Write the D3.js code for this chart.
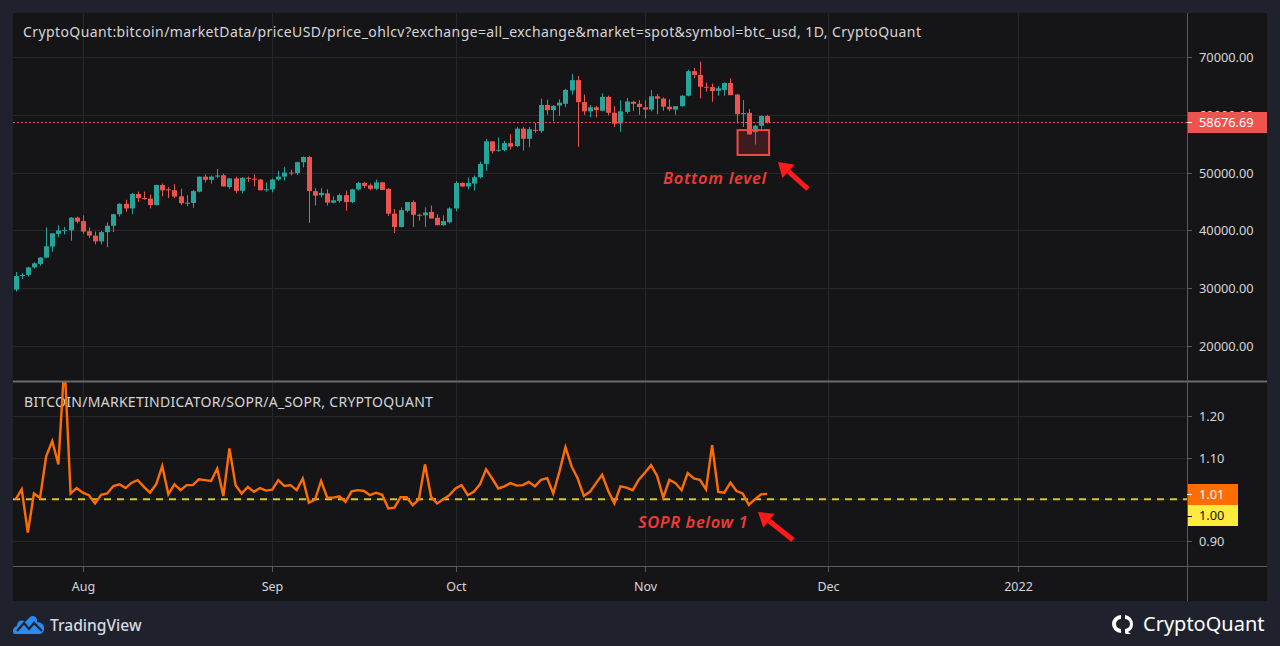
<!DOCTYPE html>
<html><head><meta charset="utf-8">
<script src="https://cdn.jsdelivr.net/npm/d3@7/dist/d3.min.js"></script>
<style>
html,body{margin:0;padding:0;background:#1f222d;}
svg{display:block;}
text{font-family:"Noto Sans","Open Sans",sans-serif;}
</style></head>
<body>
<svg id="chart" width="1280" height="646"></svg>
<script>
// ---------- DATA ----------
const startDate = "2021-07-21";
const endDate = "2021-11-21";
const openPrices = [29750,32100,32300,33600,34200,35300,37200,39400,40000,40000,42200,
 41600,39850,39100,38100,39700,40800,42800,44600,43800,46300,45600,45500,44400,47850,47100,46950,45900,44650,44750,46700,49300,48750,49300,49550,47500,49000,46850,49100,48950,48800,47000,
 47100,48800,49300,50000,49900,51800,52700,46800,46100,46400,44800,45100,46100,44900,47100,48200,47800,47200,48300,47200,42900,40600,43400,44900,42700,42600,43200,42200,40900,41400,
 43800,48200,47600,48100,49200,51500,55400,53800,53900,55100,54600,57600,55850,57400,57200,61700,60800,61600,61900,64200,66000,62200,60600,61300,60700,63100,60350,58500,60500,62250,61900,
 61300,60900,63200,62800,61400,60900,61500,63300,67550,66900,64850,64800,64150,64300,65500,63500,60100,60350,57000,58100,59800];
const highPrices = [32800,32600,33700,34500,35400,40500,39500,40900,40600,42300,42400,
 42600,40500,39800,39900,41400,42900,44700,45300,46500,46700,46700,46200,47900,48100,47500,48000,47200,46100,47000,49300,49700,49500,50600,49800,49100,49300,49200,49300,49700,48900,48300,
 49000,50300,51000,50500,51900,52800,52900,47300,47300,47100,45900,46400,46900,47200,48400,48400,48100,48800,48400,47300,43700,44000,44900,45200,42900,44000,44300,42800,42600,44000,
 48500,48300,49150,49500,51900,55800,55400,56100,55500,56650,57900,57900,57900,58600,62800,62600,61700,62700,64500,67050,66700,63500,61700,61550,63700,63300,61500,62500,62900,62400,62550,
 62500,64300,63600,63000,62700,61500,63400,67800,68100,69200,65600,65400,65000,65600,66300,63600,62550,61000,58300,59900,60000];
const lowPrices = [29400,31600,32000,33400,33900,35200,36300,38800,39300,38200,41200,
 39400,38700,37600,37600,37100,39700,42400,43200,42800,44900,45300,43800,44300,45900,45600,45600,44400,44200,43900,46600,48300,48100,49000,47600,47200,46400,46400,48400,47600,46900,46700,
 46600,48600,48600,49500,49600,50900,41300,44300,45700,44300,44700,44800,43400,44700,46900,47300,46900,47000,47000,42500,39550,40500,43100,40600,41700,40600,42100,40900,40800,41200,
 43300,47500,47100,46900,49000,50300,53300,53600,53700,54000,54400,53800,54400,56900,56900,60000,58900,59800,61300,63500,54450,60000,59600,59550,60600,59900,57900,57050,60200,60700,60000,
 59400,60600,60100,60700,60600,60000,61400,63200,66300,62850,64000,62250,63300,63300,63400,58500,57900,56600,54850,57600,58500];
const closePrices = [32100,32300,33600,34300,35300,37250,39500,40000,40050,42200,41500,
 39800,39100,38100,39700,40800,42800,44600,43800,46300,45600,45550,44400,47850,46950,47000,45850,44700,44800,46800,49300,48750,49300,49500,47600,49000,46850,49100,48950,48850,46950,47100,
 48800,49300,50000,49900,51800,52700,46800,46000,46500,44800,45200,46100,44900,47100,48200,47700,47200,48300,47000,42900,40600,43500,44900,42700,42650,43100,42050,40900,41600,43800,
 48200,47600,48200,49200,51500,55400,53700,53950,55100,54500,57600,55850,57500,57300,61700,60800,61550,62100,64300,66000,62200,60600,61300,60800,63100,60350,58450,60600,62300,61900,61350,
 60900,63200,62800,61400,60950,61500,63300,67550,66900,64850,64750,64100,64600,65500,63400,60100,60300,56600,58100,59800,58676.69];
const soprValues = [1.000,1.024,0.920,1.014,1.003,1.103,1.140,1.084,1.330,1.014,1.027,
 1.016,1.010,0.990,1.011,1.014,1.032,1.036,1.027,1.040,1.046,1.030,1.016,1.036,1.080,1.012,1.036,1.022,1.034,1.034,1.048,1.046,1.044,1.074,1.008,1.122,1.034,1.014,1.030,1.018,1.027,1.021,
 1.023,1.046,1.032,1.034,1.022,1.050,0.992,0.999,1.044,1.004,1.004,1.007,0.994,1.019,1.022,1.020,1.010,1.016,1.011,0.978,0.980,1.005,1.005,0.986,1.000,1.084,1.006,0.990,1.000,1.010,
 1.026,1.034,1.010,1.018,1.036,1.072,1.050,1.026,1.031,1.039,1.033,1.034,1.042,1.031,1.047,1.051,1.014,1.066,1.125,1.079,1.050,1.008,1.018,1.039,1.059,1.020,0.990,1.031,1.028,1.022,1.047,
 1.064,1.082,1.056,1.004,1.047,1.039,1.022,1.063,1.050,1.047,1.024,1.130,1.018,1.016,1.040,1.020,1.014,0.987,1.000,1.012,1.013];
const priceTicks = [20000,30000,40000,50000,60000,70000];
const soprTicks = [0.90,1.00,1.10,1.20];
const monthTicks = ["2021-08-01","2021-09-01","2021-10-01","2021-11-01","2021-12-01","2022-01-01"];
const monthLabels = ["Aug","Sep","Oct","Nov","Dec","2022"];
const lastPrice = 58676.69;
const lastSopr = 1.01;
const soprBase = 1.00;
const titleTop = "CryptoQuant:bitcoin/marketData/priceUSD/price_ohlcv?exchange=all_exchange&market=spot&symbol=btc_usd, 1D, CryptoQuant";
const titleBottom = "BITCOIN/MARKETINDICATOR/SOPR/A_SOPR, CRYPTOQUANT";
const boxLow = 53050, boxHigh = 57350;
const boxStart = "2021-11-16", boxEnd = "2021-11-21";

// ---------- LAYOUT ----------
const svg = d3.select("#chart");
const L = 13, R = 1187, AXR = 1267;
const P1T = 13, P1B = 381, P2T = 382, P2B = 566, XB = 601;
const parse = d3.utcParse("%Y-%m-%d");
const days = d3.utcDay.range(parse(startDate), d3.utcDay.offset(parse(endDate), 1));
const data = days.map((d, i) => ({d, o: openPrices[i], h: highPrices[i], l: lowPrices[i], c: closePrices[i], s: soprValues[i]}));

const x = d3.scaleUtc().domain([parse(startDate), parse(endDate)]).range([15.6, 767.1]);
const yP = d3.scaleLinear().domain([70000, 20000]).range([57, 346]);
const yS = d3.scaleLinear().domain([1.2, 0.9]).range([416, 541]);

const bg = "#151518", grid = "#26262b", axisCol = "#5a5a5e", txt = "#d5d5d8";
const up = "#26a69a", down = "#ef5350";

svg.append("rect").attr("x", L).attr("y", P1T).attr("width", AXR - L).attr("height", XB - P1T).attr("fill", bg);

const defs = svg.append("defs");
defs.append("clipPath").attr("id", "c1").append("rect").attr("x", L).attr("y", P1T).attr("width", R - L).attr("height", P1B - P1T);
defs.append("clipPath").attr("id", "c2").append("rect").attr("x", L).attr("y", P2T).attr("width", R - L).attr("height", P2B - P2T);

// vertical grid
const mt = monthTicks.map(parse);
svg.append("g").selectAll("line").data(mt).join("line")
  .attr("x1", d => Math.round(x(d)) + 0.5).attr("x2", d => Math.round(x(d)) + 0.5)
  .attr("y1", P1T).attr("y2", P2B).attr("stroke", grid).attr("stroke-width", 1);

// horizontal grid
svg.append("g").selectAll("line").data(priceTicks).join("line")
  .attr("x1", L).attr("x2", R).attr("y1", d => Math.round(yP(d)) + 0.5).attr("y2", d => Math.round(yP(d)) + 0.5)
  .attr("stroke", grid);
svg.append("g").selectAll("line").data(soprTicks).join("line")
  .attr("x1", L).attr("x2", R).attr("y1", d => Math.round(yS(d)) + 0.5).attr("y2", d => Math.round(yS(d)) + 0.5)
  .attr("stroke", grid);

// titles
svg.append("text").attr("x", 23).attr("y", 37).attr("fill", txt).attr("font-size", 14).attr("letter-spacing", 0.4).text(titleTop);
svg.append("text").attr("x", 24).attr("y", 407).attr("fill", txt).attr("font-size", 14).attr("letter-spacing", 0.28).text(titleBottom);

// candles
const g1 = svg.append("g").attr("clip-path", "url(#c1)");
const cg = g1.selectAll("g.c").data(data).join("g");
cg.append("line")
  .attr("x1", d => Math.round(x(d.d)) + 0.5).attr("x2", d => Math.round(x(d.d)) + 0.5)
  .attr("y1", d => yP(d.h)).attr("y2", d => yP(d.l))
  .attr("stroke", d => d.c >= d.o ? up : down).attr("stroke-width", 1);
cg.append("rect")
  .attr("x", d => Math.round(x(d.d)) - 2).attr("width", 5)
  .attr("y", d => yP(Math.max(d.o, d.c)))
  .attr("height", d => Math.max(1, Math.abs(yP(d.o) - yP(d.c))))
  .attr("fill", d => d.c >= d.o ? up : down);

// last price dashed line
g1.append("line").attr("x1", L).attr("x2", R).attr("y1", Math.round(yP(lastPrice)) + 0.5).attr("y2", Math.round(yP(lastPrice)) + 0.5)
  .attr("stroke", down).attr("stroke-width", 1).attr("stroke-dasharray", "2,2");

// bottom box annotation
g1.append("rect").attr("x", x(parse(boxStart)) + 1).attr("y", yP(boxHigh))
  .attr("width", x(parse(boxEnd)) - x(parse(boxStart)) + 1).attr("height", yP(boxLow) - yP(boxHigh))
  .attr("fill", "#e53935").attr("fill-opacity", 0.2).attr("stroke", "#f04a44").attr("stroke-width", 2);

// SOPR pane
const g2 = svg.append("g").attr("clip-path", "url(#c2)");
g2.append("line").attr("x1", L).attr("x2", R).attr("y1", yS(soprBase)).attr("y2", yS(soprBase))
  .attr("stroke", "#d8c52e").attr("stroke-width", 2).attr("stroke-dasharray", "7,6");
g2.append("path").datum(data)
  .attr("d", d3.line().x(d => x(d.d)).y(d => yS(d.s)))
  .attr("fill", "none").attr("stroke", "#ff6d00").attr("stroke-width", 2.4).attr("stroke-linejoin", "miter");

// separators
svg.append("line").attr("x1", L).attr("x2", AXR).attr("y1", 381.5).attr("y2", 381.5).attr("stroke", "#6a6a6e").attr("stroke-width", 2);
svg.append("line").attr("x1", L).attr("x2", AXR).attr("y1", 566.5).attr("y2", 566.5).attr("stroke", axisCol);
svg.append("line").attr("x1", R + 0.5).attr("x2", R + 0.5).attr("y1", P1T).attr("y2", XB).attr("stroke", axisCol);

// price axis
const lpy = Math.round(yP(lastPrice));
defs.append("clipPath").attr("id", "peek").append("rect").attr("x", R).attr("y", P1T).attr("width", AXR - R).attr("height", lpy - 10 - P1T);
const pa = svg.append("g");
priceTicks.forEach(t => {
  const yy = Math.round(yP(t)) + 0.5;
  pa.append("line").attr("x1", R).attr("x2", R + 5).attr("y1", yy).attr("y2", yy).attr("stroke", axisCol);
  const covered = Math.abs(yy - lpy) < 14;
  const tx = pa.append("text").attr("x", 1199).attr("y", yy + 4.5).attr("fill", txt).attr("font-size", 12.8).text(d3.format(".2f")(t));
  if (covered) tx.attr("clip-path", "url(#peek)");
});
pa.append("rect").attr("x", R + 1).attr("y", lpy - 10).attr("width", AXR - R - 1).attr("height", 21).attr("fill", down);
pa.append("line").attr("x1", R).attr("x2", R + 5).attr("y1", lpy + 0.5).attr("y2", lpy + 0.5).attr("stroke", "#fff");
pa.append("text").attr("x", 1199).attr("y", lpy + 5).attr("fill", "#fff").attr("font-size", 12.8).text(d3.format(".2f")(lastPrice));

// sopr axis (the 1.00 tick is covered by the value boxes)
const sa = svg.append("g");
soprTicks.forEach(t => {
  const yy = Math.round(yS(t)) + 0.5;
  sa.append("line").attr("x1", R).attr("x2", R + 5).attr("y1", yy).attr("y2", yy).attr("stroke", axisCol);
  if (t !== soprBase) sa.append("text").attr("x", 1199).attr("y", yy + 4.5).attr("fill", txt).attr("font-size", 12.8).text(d3.format(".2f")(t));
});
sa.append("rect").attr("x", R + 1).attr("y", 484).attr("width", 50).attr("height", 21).attr("fill", "#ff6d00");
sa.append("text").attr("x", 1199).attr("y", 499).attr("fill", "#fff").attr("font-size", 12.8).text(d3.format(".2f")(lastSopr));
sa.append("rect").attr("x", R + 1).attr("y", 505).attr("width", 50).attr("height", 21).attr("fill", "#ffeb3b");
sa.append("text").attr("x", 1199).attr("y", 520).attr("fill", "#111").attr("font-size", 12.8).text(d3.format(".2f")(soprBase));
sa.append("line").attr("x1", R).attr("x2", R + 5).attr("y1", 494.5).attr("y2", 494.5).attr("stroke", "#fff");
sa.append("line").attr("x1", R).attr("x2", R + 5).attr("y1", 516.5).attr("y2", 516.5).attr("stroke", "#111");

// time axis
const ta = svg.append("g");
mt.forEach((d, i) => {
  const xx = Math.round(x(d)) + 0.5;
  ta.append("line").attr("x1", xx).attr("x2", xx).attr("y1", 567).attr("y2", 572).attr("stroke", axisCol);
  ta.append("text").attr("x", xx).attr("y", 591).attr("text-anchor", "middle").attr("fill", txt).attr("font-size", 12.5).text(monthLabels[i]);
});

// annotations
const red = "#ee3b36";
svg.append("text").attr("x", 663).attr("y", 184).attr("fill", red).attr("font-size", 16.5).attr("font-style", "italic").attr("font-weight", 600).attr("letter-spacing", 0.7).text("Bottom level");
svg.append("text").attr("x", 638).attr("y", 528).attr("fill", red).attr("font-size", 16.5).attr("font-style", "italic").attr("font-weight", 600).attr("letter-spacing", 0.6).text("SOPR below 1");
function arrow(x0, y0, x1, y1) {
  const ang = Math.atan2(y1 - y0, x1 - x0);
  const hl = 14, hw = 9;
  const bx = x1 - hl * Math.cos(ang), by = y1 - hl * Math.sin(ang);
  svg.append("line").attr("x1", x0).attr("y1", y0).attr("x2", bx).attr("y2", by).attr("stroke", "#ff1a1a").attr("stroke-width", 5);
  const px = -Math.sin(ang) * hw, py = Math.cos(ang) * hw;
  svg.append("path").attr("d", `M${x1},${y1}L${bx + px},${by + py}L${bx - px},${by - py}Z`).attr("fill", "#ff1a1a");
}
arrow(808, 189, 778, 162);
arrow(793, 540, 758, 512);

// footer logos
const tv = svg.append("g").attr("transform", "translate(13,614)");
tv.append("path").attr("d", "M2,20 C-1,20 -1,13 4,12 C4,7 9,5 12,8 L17,3 C21,0 25,4 24,8 C29,8 32,12 31,16 C30,19 28,20 26,20 Z").attr("fill", "#2a8cf2");
tv.append("path").attr("d", "M4,17 L11,9 L16,15 L21,9 L29,17").attr("fill", "none").attr("stroke", "#1f222d").attr("stroke-width", 2.2);
svg.append("text").attr("x", 50).attr("y", 631).attr("fill", "#d8dae0").attr("font-size", 15.6).attr("font-weight", 500).text("TradingView");

const cq = svg.append("g").attr("transform", "translate(1114,614)");
cq.append("path").attr("d", "M7,1 A9,9 0 0 0 7,19 L7,15 A5,5 0 0 1 7,5 Z").attr("fill", "#fff");
cq.append("path").attr("d", "M11,1 A9,9 0 0 1 19,10 A9,9 0 0 1 14,18 L17,20 L12,20 L11,19 Z M11,5 L11,15 A5,5 0 0 0 11,5 Z").attr("fill", "#fff").attr("fill-rule", "evenodd");
svg.append("text").attr("x", 1143).attr("y", 631).attr("fill", "#fff").attr("font-size", 20).text("CryptoQuant");
</script>
</body></html>
